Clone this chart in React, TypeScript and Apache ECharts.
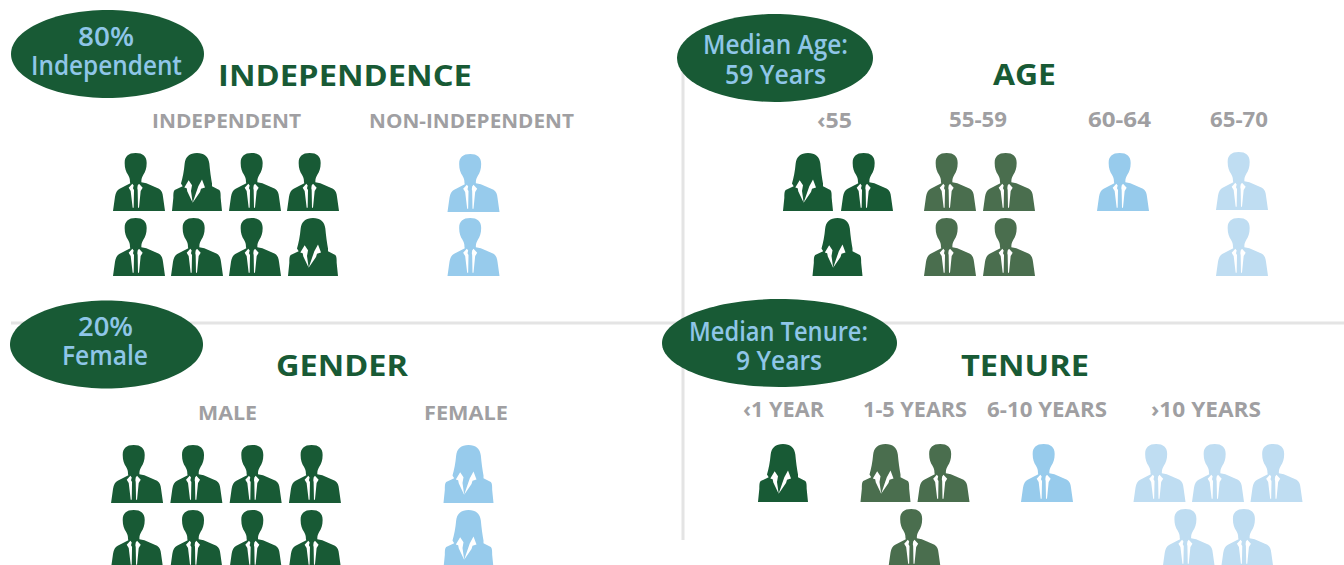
import React, { useEffect, useRef } from "react";
import * as echarts from "echarts";

// ---------- data ----------
const independenceCategories = ["INDEPENDENT", "NON-INDEPENDENT"];
const independencePeople = ["MWMMMMMW", "MM"];
const ageCategories = ["‹55", "55-59", "60-64", "65-70"];
const agePeople = ["WMW", "MMMM", "M", "MM"];
const genderCategories = ["MALE", "FEMALE"];
const genderPeople = ["MMMMMMMM", "WW"];
const tenureCategories = ["‹1 YEAR", "1-5 YEARS", "6-10 YEARS", "›10 YEARS"];
const tenurePeople = ["W", "WMM", "M", "MMMMM"];
const panelTitles = ["INDEPENDENCE", "AGE", "GENDER", "TENURE"];
const badgeTexts = [
  ["80%", "Independent"],
  ["Median Age:", "59 Years"],
  ["20%", "Female"],
  ["Median Tenure:", "9 Years"],
];

// ---------- styles and layout ----------
const DARK = "#185a35";
const MID = "#4a6e4e";
const BLUE = "#97cbec";
const PALE = "#bfddf2";
const GREY = "#a09fa2";
const BADGE_TEXT = "#8fc6e8";
const RULE = "#e4e4e4";
const FONT = "Open Sans";

const MAN =
  "path://M68 0C90 0 101 10 101 30C101 46 97 56 91 66C87 73 85 78 85 88L100 91L138 108C146 113 149 122 150 132L156 175L0 175L6 132C8 120 12 112 20 108L52 91L51 88C51 78 49 73 45 66C39 56 35 46 35 30C35 10 46 0 68 0Z" +
  "M58 93L47 105L53 115L59 165L62 165L63 112L60 106L62 98Z" +
  "M78 93L74 98L73 106L74 112L75 165L78 165L83 115L89 105Z";
const WOMAN =
  "path://M75 0C97 0 110 11 112 32C114 55 117 75 120 92L120 100L142 112C146 116 146 125 146 135L150 175L0 175L4 135C4 125 4 116 8 112L32 100L27 92C32 75 36 55 38 32C40 11 53 0 75 0Z" +
  "M50 82L37 104L44 106L46 116L62 150L57 115L60 97Z" +
  "M90 80L79 100L73 118L62 150L84 118L87 108L99 104Z";

type Group = {
  people: string;
  color: string;
  cx: number;
  top: number;
  perRow: number;
  step: number;
  rowStep: number;
};

const groups: Group[] = [
  { people: independencePeople[0], color: DARK, cx: 226, top: 153, perRow: 4, step: 58, rowStep: 65 },
  { people: independencePeople[1], color: BLUE, cx: 473.5, top: 154, perRow: 1, step: 58, rowStep: 64 },
  { people: agePeople[0], color: DARK, cx: 837.5, top: 153, perRow: 2, step: 59, rowStep: 65 },
  { people: agePeople[1], color: MID, cx: 979.5, top: 153, perRow: 2, step: 59, rowStep: 65 },
  { people: agePeople[2], color: BLUE, cx: 1123, top: 153, perRow: 1, step: 59, rowStep: 65 },
  { people: agePeople[3], color: PALE, cx: 1242, top: 152, perRow: 1, step: 59, rowStep: 66 },
  { people: genderPeople[0], color: DARK, cx: 226, top: 445, perRow: 4, step: 59.3, rowStep: 65 },
  { people: genderPeople[1], color: BLUE, cx: 468.5, top: 445, perRow: 1, step: 59, rowStep: 65 },
  { people: tenurePeople[0], color: DARK, cx: 783, top: 444, perRow: 1, step: 58, rowStep: 65 },
  { people: tenurePeople[1], color: MID, cx: 914.5, top: 444, perRow: 2, step: 58, rowStep: 65 },
  { people: tenurePeople[2], color: BLUE, cx: 1047, top: 444, perRow: 1, step: 58, rowStep: 65 },
  { people: tenurePeople[3], color: PALE, cx: 1218, top: 444, perRow: 3, step: 58.5, rowStep: 65 },
];

const ICON_H = 58;

function buildPoints(g: Group) {
  const pts: any[] = [];
  const n = g.people.length;
  for (let i = 0; i < n; i++) {
    const row = Math.floor(i / g.perRow);
    const col = i % g.perRow;
    const inRow = Math.min(g.perRow, n - row * g.perRow);
    const x = g.cx + (col - (inRow - 1) / 2) * g.step;
    const y = g.top + ICON_H / 2 + row * g.rowStep;
    const woman = g.people[i] === "W";
    pts.push({
      value: [x, y],
      symbol: woman ? WOMAN : MAN,
      symbolSize: [woman ? 50 : 52, ICON_H],
    });
  }
  return pts;
}

const ctx = document.createElement("canvas").getContext("2d")!;
function fitText(
  text: string,
  x0: number,
  x1: number,
  cy: number,
  size: number,
  weight: number,
  fill: string,
  family = FONT
) {
  const font = `${weight} ${size}px "${family}"`;
  ctx.font = font;
  const w = ctx.measureText(text).width;
  return {
    type: "text",
    x: (x0 + x1) / 2,
    y: cy,
    scaleX: (x1 - x0) / w,
    z: 10,
    style: {
      text,
      fill,
      align: "center",
      verticalAlign: "middle",
      fontFamily: family,
      fontSize: size,
      fontWeight: weight,
    },
  };
}

function badge(cx: number, cy: number, rx: number, ry: number) {
  return { type: "ellipse", z: 5, shape: { cx, cy, rx, ry }, style: { fill: DARK } };
}

const graphics: any[] = [
  { type: "line", z: 1, shape: { x1: 11, y1: 323, x2: 1344, y2: 323 }, style: { stroke: RULE, lineWidth: 3 } },
  { type: "line", z: 1, shape: { x1: 683, y1: 70, x2: 683, y2: 540 }, style: { stroke: RULE, lineWidth: 3 } },
  badge(107.5, 54, 96.5, 44),
  badge(775, 58, 98, 44),
  badge(106.5, 344.5, 96.5, 44),
  badge(779.5, 343, 117.5, 44),
  fitText(panelTitles[0], 218, 472, 75, 29, 700, DARK),
  fitText(panelTitles[1], 993, 1056, 74, 29, 700, DARK),
  fitText(panelTitles[2], 276, 408, 365, 29, 700, DARK),
  fitText(panelTitles[3], 961, 1089, 365, 29, 700, DARK),
  fitText(independenceCategories[0], 152, 301, 120, 20, 700, GREY),
  fitText(independenceCategories[1], 369, 574, 120, 20, 700, GREY),
  fitText(ageCategories[0], 817, 852, 119, 21, 700, GREY),
  fitText(ageCategories[1], 949, 1007, 119, 21, 700, GREY),
  fitText(ageCategories[2], 1088, 1151, 119, 21, 700, GREY),
  fitText(ageCategories[3], 1210, 1268, 119, 21, 700, GREY),
  fitText(genderCategories[0], 198, 257, 412, 20, 700, GREY),
  fitText(genderCategories[1], 424, 508, 412, 20, 700, GREY),
  fitText(tenureCategories[0], 743, 824, 409, 21, 700, GREY),
  fitText(tenureCategories[1], 863, 967, 409, 21, 700, GREY),
  fitText(tenureCategories[2], 987, 1107, 409, 21, 700, GREY),
  fitText(tenureCategories[3], 1151, 1261, 409, 21, 700, GREY),
  fitText(badgeTexts[0][0], 78, 134, 36, 27, 600, BADGE_TEXT),
  fitText(badgeTexts[0][1], 31, 182, 65, 27, 600, BADGE_TEXT),
  fitText(badgeTexts[1][0], 703, 848, 44, 27, 600, BADGE_TEXT),
  fitText(badgeTexts[1][1], 725, 826, 74, 27, 600, BADGE_TEXT),
  fitText(badgeTexts[2][0], 78, 133, 326, 27, 600, BADGE_TEXT),
  fitText(badgeTexts[2][1], 62, 148, 355, 27, 600, BADGE_TEXT),
  fitText(badgeTexts[3][0], 689, 868, 330, 27, 600, BADGE_TEXT),
  fitText(badgeTexts[3][1], 736, 822, 360, 27, 600, BADGE_TEXT),
];

export default function App() {
  const ref = useRef<HTMLDivElement>(null);
  useEffect(() => {
    const chart = echarts.init(ref.current!, undefined, { renderer: "svg" });
    chart.setOption({
      animation: false,
      backgroundColor: "#ffffff",
      grid: { left: 0, top: 0, width: 1344, height: 565, containLabel: false },
      xAxis: { type: "value", min: 0, max: 1344, show: false },
      yAxis: { type: "value", min: 0, max: 565, inverse: true, show: false },
      graphic: graphics,
      series: groups.map((g) => ({
        type: "scatter",
        silent: true,
        clip: true,
        itemStyle: { color: g.color, opacity: 1 },
        data: buildPoints(g),
      })),
    });
    return () => chart.dispose();
  }, []);
  return <div ref={ref} style={{ position: "absolute", left: 0, top: 0, width: 1344, height: 565 }} />;
}
